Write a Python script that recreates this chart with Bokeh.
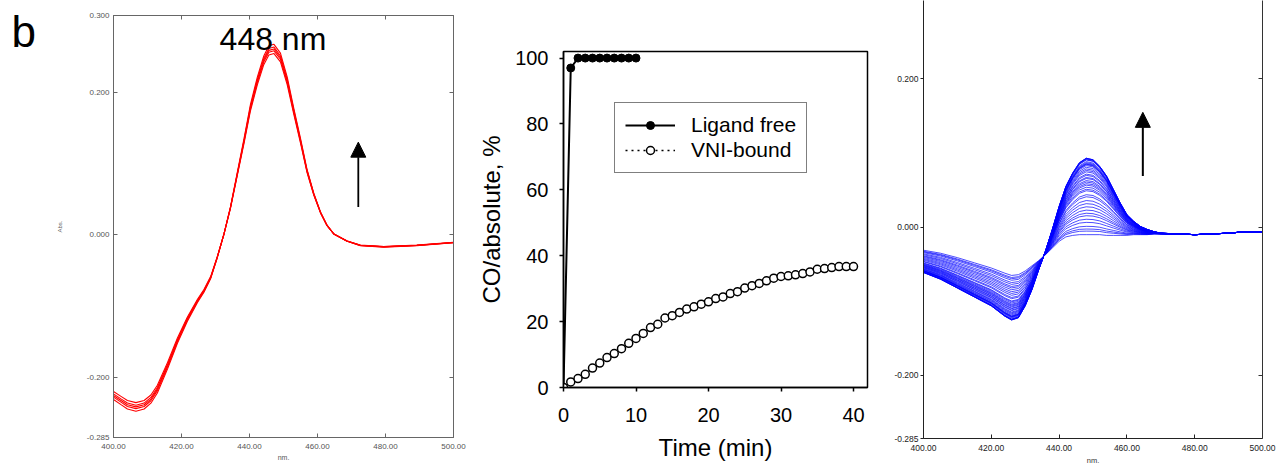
from bokeh.plotting import figure
from bokeh.layouts import row
from bokeh.models import (Range1d, FixedTicker, NumeralTickFormatter, LinearAxis,
                          Label, Arrow, NormalHead, Legend, LegendItem)
from bokeh.core.properties import value
from bokeh.embed import file_html
from bokeh.resources import INLINE

FONT = "Liberation Sans"

# ---------------- Panel 1: ligand-free difference spectra (red) ----------------
red_nm = [400, 402.2, 404.1, 406.6, 409.0, 411.0, 412.9, 415.9, 418.8, 421.7, 424.7,
          426.6, 428.6, 430.5, 432.5, 434.4, 436.4, 438.4, 440.3, 442.3, 444.2, 445.7,
          447.2, 449.1, 451.1, 453.0, 455.0, 456.9, 458.9, 460.9, 462.8, 464.8, 468.7,
          472.6, 479.5, 489.2, 500]
red_abs = [-0.226, -0.233, -0.239, -0.242, -0.239, -0.231, -0.217, -0.184, -0.149, -0.119,
           -0.093, -0.079, -0.060, -0.032, 0.001, 0.038, 0.085, 0.132, 0.179, 0.216, 0.245,
           0.259, 0.261, 0.249, 0.216, 0.174, 0.132, 0.090, 0.057, 0.031, 0.013, 0.001,
           -0.009, -0.015, -0.017, -0.015, -0.011]
red_scan_scale = [0.975, 0.99, 1.0, 1.01, 1.025]
spec_x_ticks = [400, 420, 440, 460, 480, 500]

# ---------------- Panel 2: CO binding kinetics ----------------
free_time = [0, 1, 2, 3, 4, 5, 6, 7, 8, 9, 10]
free_co = [0, 97, 100, 100, 100, 100, 100, 100, 100, 100, 100]
vni_time = list(range(0, 41))
vni_co = [0, 1.7, 2.7, 4.0, 5.9, 7.4, 9.1, 10.3, 11.8, 13.4, 14.9, 16.4, 18.2, 19.2, 21.1,
          21.8, 22.8, 23.8, 24.5, 25.3, 26.0, 27.0, 27.5, 28.5, 29.1, 30.2, 30.9, 31.6,
          32.4, 33.2, 33.7, 33.9, 34.2, 34.6, 35.1, 35.9, 36.1, 36.4, 36.7, 36.7, 36.7]

# ---------------- Panel 3: VNI-bound difference spectra (blue) ----------------
blue_nm = [400, 405, 410, 415, 420, 424, 426, 428, 430, 432, 434, 436, 438, 440, 442, 444,
           446, 448, 450, 452, 454, 456, 458, 460, 462, 464, 466, 468, 470, 475, 480, 490,
           495, 500]
blue_first = [-0.031, -0.035, -0.041, -0.048, -0.055, -0.062, -0.065, -0.064, -0.059, -0.052,
              -0.045, -0.037, -0.028, -0.019, -0.013, -0.011, -0.010, -0.010, -0.010, -0.010,
              -0.011, -0.011, -0.011, -0.011, -0.010, -0.010, -0.010, -0.009, -0.009, -0.009,
              -0.010, -0.008, -0.006, -0.007]
blue_last = [-0.061, -0.070, -0.082, -0.094, -0.106, -0.120, -0.125, -0.122, -0.106, -0.084,
             -0.057, -0.032, -0.003, 0.028, 0.055, 0.073, 0.087, 0.093, 0.091, 0.082, 0.069,
             0.051, 0.033, 0.017, 0.008, 0.001, -0.003, -0.006, -0.008, -0.009, -0.010,
             -0.008, -0.006, -0.007]

panel_letter = ["b"]


def style_small_axis(ax, color, size):
    ax.major_label_text_font = FONT
    ax.major_label_text_font_size = size
    ax.major_label_text_color = color
    ax.minor_tick_line_color = None
    ax.axis_label_text_font_style = "normal"
    ax.axis_label_text_font = FONT


def tick_only_axis(ticks, color):
    ax = LinearAxis(ticker=FixedTicker(ticks=ticks))
    ax.major_label_overrides = {t: "" for t in ticks}
    ax.major_label_text_font_size = "1px"
    ax.major_label_standoff = 0
    ax.major_tick_in = 4
    ax.major_tick_out = 0
    ax.minor_tick_line_color = None
    ax.axis_line_color = color
    ax.major_tick_line_color = color
    return ax


# ======== Panel letter strip (pixel coordinates) ========
pb = figure(width=40, height=467, x_range=Range1d(0, 40), y_range=Range1d(467, 0),
            output_backend="svg", toolbar_location=None, frame_align=False,
            x_axis_location=None, y_axis_location=None, min_border=0)
pb.xgrid.visible = False
pb.ygrid.visible = False
pb.outline_line_color = None
pb.text(x=[11], y=[30.5], text=panel_letter, text_font=value(FONT),
        text_font_size=value("44px"), text_color="black", text_align="left",
        text_baseline="middle")

# ======== Panel 1 ========
p1 = figure(width=430, height=467, x_range=Range1d(400, 500), y_range=Range1d(-0.285, 0.308),
            output_backend="svg", toolbar_location=None, frame_align=False,
            min_border_left=73, min_border_right=17, min_border_top=15, min_border_bottom=30)
p1.xgrid.visible = False
p1.ygrid.visible = False
p1.outline_line_color = "#777777"

for s in red_scan_scale:
    p1.line(red_nm, [v * s for v in red_abs], line_color="#ff0000", line_width=1.1)

ya = p1.yaxis[0]
ya.ticker = FixedTicker(ticks=[-0.285, -0.2, 0.0, 0.2, 0.308])
ya.formatter = NumeralTickFormatter(format="0.000")
ya.major_label_overrides = {0.308: "0.300"}
style_small_axis(ya, "#555555", "8px")
ya.major_tick_in = 4
ya.major_tick_out = 0
ya.major_label_standoff = 4
ya.axis_line_color = "#666666"
ya.major_tick_line_color = "#666666"
ya.axis_label = "Abs."
ya.axis_label_text_font_size = "6px"
ya.axis_label_text_color = "#666666"
ya.axis_label_standoff = 21

xa = p1.xaxis[0]
xa.ticker = FixedTicker(ticks=spec_x_ticks)
xa.formatter = NumeralTickFormatter(format="0.00")
style_small_axis(xa, "#555555", "8px")
xa.major_tick_in = 4
xa.major_tick_out = 0
xa.major_label_standoff = 6
xa.axis_line_color = "#666666"
xa.major_tick_line_color = "#666666"
xa.axis_label = "nm."
xa.axis_label_text_font_size = "7px"
xa.axis_label_text_color = "#555555"
xa.axis_label_standoff = 2

p1.add_layout(tick_only_axis([-0.2, 0.0, 0.2], "#666666"), "right")
p1.add_layout(tick_only_axis(spec_x_ticks, "#666666"), "above")

p1.add_layout(Label(x=446.9, y=0.275, text="448 nm", text_font=FONT, text_font_size="32px",
                    text_color="black", text_align="center", text_baseline="middle"))
p1.add_layout(Arrow(x_start=472, y_start=0.039, x_end=472, y_end=0.130, line_width=1.8,
                    line_color="black",
                    end=NormalHead(size=15, fill_color="black", line_color="black")))

# ======== Panel 2 ========
p2 = figure(width=410, height=467, x_range=Range1d(0, 41.93), y_range=Range1d(0, 102),
            output_backend="svg", toolbar_location=None, frame_align=False,
            min_border_left=93, min_border_right=13, min_border_top=51, min_border_bottom=80)
p2.xgrid.visible = False
p2.ygrid.visible = False
p2.outline_line_color = "black"
p2.outline_line_width = 1.5

l_free = p2.line(free_time, free_co, line_color="black", line_width=2)
m_free = p2.scatter(free_time, free_co, marker="circle", size=8, fill_color="black",
                    line_color="black")
l_vni = p2.line(vni_time, vni_co, line_color="black", line_width=1.5, line_dash="dotted")
m_vni = p2.scatter(vni_time, vni_co, marker="circle", size=8, fill_color="white",
                   line_color="black", line_width=1.5)

for ax in (p2.xaxis[0], p2.yaxis[0]):
    ax.major_label_text_font = FONT
    ax.major_label_text_font_size = "20px"
    ax.major_label_text_color = "black"
    ax.axis_label_text_font = FONT
    ax.axis_label_text_font_size = "24px"
    ax.axis_label_text_font_style = "normal"
    ax.axis_label_text_color = "black"
    ax.minor_tick_line_color = None
    ax.major_tick_in = 0
    ax.major_tick_out = 4
    ax.axis_line_width = 1.5
    ax.major_tick_line_width = 1.5

p2.xaxis[0].ticker = FixedTicker(ticks=[0, 10, 20, 30, 40])
p2.yaxis[0].ticker = FixedTicker(ticks=[0, 20, 40, 60, 80, 100])
p2.xaxis[0].axis_label = "Time (min)"
p2.yaxis[0].axis_label = "CO/absolute, %"
p2.xaxis[0].major_label_standoff = 16
p2.xaxis[0].axis_label_standoff = 9
p2.yaxis[0].major_label_standoff = 11
p2.yaxis[0].axis_label_standoff = 7

legend = Legend(items=[LegendItem(label="Ligand free", renderers=[l_free, m_free]),
                       LegendItem(label="VNI-bound", renderers=[l_vni, m_vni])],
                location=(51, 214), border_line_color="black", border_line_width=1,
                background_fill_color="white", background_fill_alpha=1,
                label_text_font=FONT, label_text_font_size="21px", label_text_color="black",
                glyph_width=50, label_standoff=16, padding=10, spacing=1, margin=0)
p2.add_layout(legend)

# ======== Panel 3 ========
p3 = figure(width=403, height=467, x_range=Range1d(400, 500), y_range=Range1d(-0.285, 0.3059),
            output_backend="svg", toolbar_location=None, frame_align=False,
            min_border_left=43, min_border_right=21, min_border_top=0, min_border_bottom=27)
p3.xgrid.visible = False
p3.ygrid.visible = False
p3.outline_line_color = None

frac = [v / vni_co[-1] for v in vni_co]
xs = [blue_nm for _ in frac]
ys = [[a + f * (b - a) for a, b in zip(blue_first, blue_last)] for f in frac]
p3.multi_line(xs, ys, line_color="#0000ff", line_width=0.7)

ya3 = p3.yaxis[0]
ya3.ticker = FixedTicker(ticks=[-0.285, -0.2, 0.0, 0.2])
ya3.formatter = NumeralTickFormatter(format="0.000")
style_small_axis(ya3, "#222222", "8.5px")
ya3.major_tick_in = 0
ya3.major_tick_out = 3
ya3.major_label_standoff = 2
ya3.axis_line_color = "#222222"
ya3.major_tick_line_color = "#222222"

xa3 = p3.xaxis[0]
xa3.ticker = FixedTicker(ticks=spec_x_ticks)
xa3.formatter = NumeralTickFormatter(format="0.00")
style_small_axis(xa3, "#222222", "8.5px")
xa3.major_tick_in = 4
xa3.major_tick_out = 0
xa3.major_label_standoff = 6
xa3.axis_line_color = "#222222"
xa3.major_tick_line_color = "#222222"
xa3.axis_label = "nm."
xa3.axis_label_text_font_size = "7.5px"
xa3.axis_label_text_color = "#333333"
xa3.axis_label_standoff = 2

p3.add_layout(tick_only_axis([-0.2, 0.0, 0.2], "#333333"), "right")

p3.add_layout(Arrow(x_start=464.7, y_start=0.069, x_end=464.7, y_end=0.155, line_width=2,
                    line_color="black",
                    end=NormalHead(size=15, fill_color="black", line_color="black")))

layout = row(pb, p1, p2, p3)
open("out.html", "w").write(file_html(layout, INLINE))
